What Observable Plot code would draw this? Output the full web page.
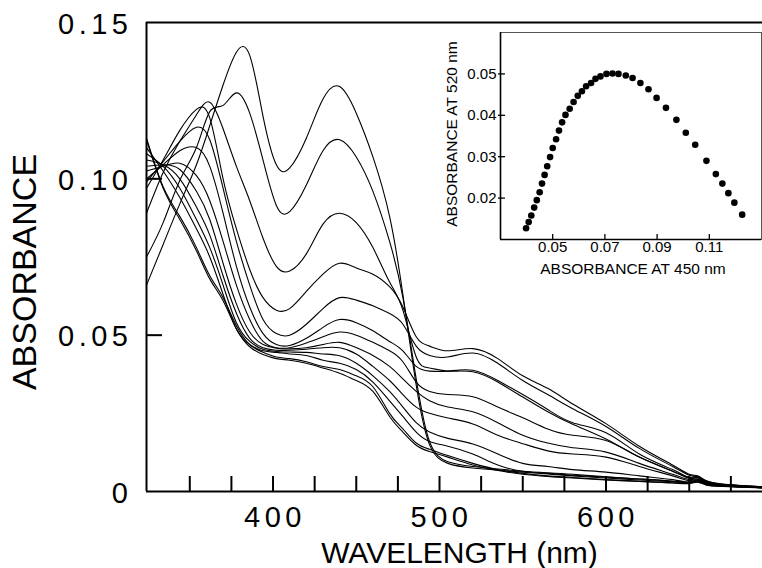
<!DOCTYPE html>
<html><head><meta charset="utf-8">
<script src="https://cdn.jsdelivr.net/npm/d3@7"></script>
<script src="https://cdn.jsdelivr.net/npm/@observablehq/plot@0.6"></script>
<style>
body{margin:0;background:#fff;}
#wrap{position:relative;width:762px;height:568px;overflow:hidden;background:#fff;}
#wrap svg{position:absolute;overflow:visible;}
</style></head><body><div id="wrap"></div>
<script>
// ---- main spectra (wavelength grid, nm) ----
const wavelengths = [324, 334, 344, 354, 362, 370, 378, 386, 394, 402, 410, 420, 430, 440, 450, 460, 470, 478, 486, 494, 505, 520, 535, 550, 565, 580, 600, 620, 640, 650, 655, 660, 670, 694];
const spectrum01 = [0.066, 0.079, 0.092, 0.1045, 0.117, 0.130, 0.1405, 0.1395, 0.120, 0.1045, 0.1035, 0.113, 0.1255, 0.1295, 0.121, 0.107, 0.088, 0.063, 0.034, 0.015, 0.009, 0.0075, 0.0068, 0.0062, 0.0056, 0.005, 0.0043, 0.0037, 0.0031, 0.0029, 0.0035, 0.0024, 0.0018, 0.0012];
const spectrum02 = [0.075, 0.086, 0.0995, 0.110, 0.1215, 0.1235, 0.1275, 0.121, 0.106, 0.0915, 0.0895, 0.098, 0.109, 0.1125, 0.107, 0.096, 0.080, 0.062, 0.036, 0.016, 0.0095, 0.008, 0.0072, 0.0065, 0.006, 0.0055, 0.0047, 0.004, 0.0033, 0.003, 0.0037, 0.0025, 0.0018, 0.0012];
const spectrum03 = [0.089, 0.102, 0.112, 0.1205, 0.1245, 0.116, 0.104, 0.093, 0.081, 0.072, 0.0705, 0.076, 0.0855, 0.089, 0.086, 0.078, 0.067, 0.058, 0.043, 0.0395, 0.0385, 0.0383, 0.035, 0.0302, 0.0255, 0.0215, 0.0168, 0.011, 0.0065, 0.0045, 0.0048, 0.003, 0.0022, 0.0014];
const spectrum04 = [0.097, 0.106, 0.1155, 0.1222, 0.1195, 0.100, 0.084, 0.071, 0.062, 0.058, 0.0585, 0.064, 0.0695, 0.073, 0.0715, 0.0695, 0.0655, 0.059, 0.0495, 0.0465, 0.045, 0.0457, 0.0425, 0.037, 0.033, 0.028, 0.0217, 0.0145, 0.0085, 0.0055, 0.005, 0.0035, 0.0024, 0.0015];
const spectrum05 = [0.099, 0.1055, 0.112, 0.1165, 0.1125, 0.097, 0.080, 0.066, 0.055, 0.0505, 0.050, 0.0535, 0.0585, 0.062, 0.0612, 0.0594, 0.0569, 0.0535, 0.0465, 0.0435, 0.043, 0.0443, 0.041, 0.0355, 0.031, 0.0265, 0.0208, 0.0138, 0.008, 0.0052, 0.0048, 0.0034, 0.0023, 0.0015];
const spectrum06 = [0.100, 0.1045, 0.109, 0.110, 0.104, 0.089, 0.072, 0.059, 0.0505, 0.047, 0.0467, 0.049, 0.0525, 0.055, 0.054, 0.0514, 0.048, 0.045, 0.040, 0.0385, 0.0385, 0.0388, 0.0355, 0.031, 0.0262, 0.022, 0.0188, 0.012, 0.007, 0.0045, 0.0045, 0.0032, 0.0022, 0.0014];
const spectrum07 = [0.1025, 0.104, 0.105, 0.101, 0.093, 0.080, 0.066, 0.055, 0.048, 0.046, 0.046, 0.0475, 0.0495, 0.051, 0.050, 0.0477, 0.045, 0.0415, 0.035, 0.032, 0.031, 0.0303, 0.027, 0.0236, 0.020, 0.018, 0.0163, 0.011, 0.0065, 0.0042, 0.0043, 0.003, 0.0021, 0.0014];
const spectrum08 = [0.104, 0.1045, 0.103, 0.096, 0.087, 0.073, 0.060, 0.051, 0.047, 0.0458, 0.0456, 0.046, 0.047, 0.0477, 0.046, 0.0435, 0.040, 0.036, 0.032, 0.029, 0.027, 0.0255, 0.022, 0.018, 0.0155, 0.014, 0.0126, 0.009, 0.0055, 0.0038, 0.004, 0.0028, 0.002, 0.0013];
const spectrum09 = [0.106, 0.1045, 0.100, 0.091, 0.082, 0.069, 0.057, 0.049, 0.046, 0.0452, 0.0452, 0.0455, 0.046, 0.046, 0.044, 0.040, 0.0355, 0.031, 0.027, 0.025, 0.0235, 0.0216, 0.018, 0.0153, 0.013, 0.012, 0.011, 0.008, 0.005, 0.0035, 0.0038, 0.0027, 0.002, 0.0013];
const spectrum10 = [0.108, 0.104, 0.097, 0.087, 0.078, 0.066, 0.054, 0.048, 0.0455, 0.0448, 0.0446, 0.0445, 0.044, 0.0434, 0.041, 0.037, 0.032, 0.027, 0.022, 0.019, 0.017, 0.0152, 0.012, 0.009, 0.008, 0.007, 0.0062, 0.005, 0.0038, 0.003, 0.0034, 0.0025, 0.0018, 0.0012];
const spectrum11 = [0.110, 0.1025, 0.094, 0.084, 0.075, 0.063, 0.052, 0.047, 0.045, 0.0445, 0.044, 0.0435, 0.042, 0.041, 0.039, 0.035, 0.029, 0.024, 0.019, 0.016, 0.0145, 0.012, 0.0085, 0.0065, 0.0058, 0.0052, 0.0046, 0.004, 0.0033, 0.0028, 0.0033, 0.0023, 0.0017, 0.0012];
const spectrum12 = [0.113, 0.0975, 0.088, 0.078, 0.069, 0.062, 0.053, 0.047, 0.0445, 0.043, 0.0425, 0.0415, 0.040, 0.039, 0.037, 0.0335, 0.025, 0.020, 0.0155, 0.0135, 0.0115, 0.009, 0.007, 0.0058, 0.005, 0.0045, 0.0038, 0.0033, 0.0028, 0.0026, 0.0031, 0.0022, 0.0017, 0.0012];
const spectrum13 = [0.1125, 0.097, 0.087, 0.077, 0.068, 0.061, 0.052, 0.0463, 0.0438, 0.0425, 0.042, 0.041, 0.0395, 0.0378, 0.0355, 0.032, 0.024, 0.019, 0.0148, 0.0128, 0.011, 0.0085, 0.0067, 0.0055, 0.0048, 0.0043, 0.0037, 0.0032, 0.0027, 0.0025, 0.003, 0.0021, 0.0016, 0.0011];

const xDomain = [324, 694];
const yDomain = [0, 0.15];
const xMinorTicks = [350, 375, 400, 425, 450, 475, 500, 525, 550, 575, 600, 625, 650, 675];
const xTickLabels = [400, 500, 600];
const yInnerTicks = [0.05, 0.10];
const yTicks = [0, 0.05, 0.10, 0.15];
const yTickLabels = ["0", "0.05", "0.10", "0.15"];
const xTitle = "WAVELENGTH (nm)";
const yTitle = "ABSORBANCE";

// ---- inset: A520 vs A450 ----
const insetA450 = [0.0398, 0.0408, 0.0418, 0.0429, 0.0439, 0.0450, 0.0459, 0.0469, 0.0479, 0.0490, 0.0500, 0.0513, 0.0524, 0.0536, 0.0549, 0.0565, 0.0580, 0.0596, 0.0612, 0.0628, 0.0647, 0.0664, 0.0683, 0.0706, 0.0729, 0.0752, 0.0780, 0.0806, 0.0836, 0.0867, 0.0898, 0.0934, 0.0974, 0.1010, 0.1046, 0.1089, 0.1125, 0.1150, 0.1173, 0.1196, 0.1226];
const insetA520 = [0.0127, 0.0142, 0.0158, 0.0177, 0.0195, 0.0214, 0.0235, 0.0256, 0.0277, 0.0299, 0.0321, 0.0342, 0.0363, 0.0383, 0.0401, 0.0416, 0.0432, 0.0447, 0.0458, 0.0470, 0.0478, 0.0488, 0.0494, 0.0500, 0.0501, 0.0500, 0.0496, 0.0490, 0.0478, 0.0463, 0.0442, 0.0418, 0.0389, 0.0358, 0.0329, 0.0290, 0.0258, 0.0235, 0.0212, 0.0189, 0.0160];
const insetXDomain = [0.03, 0.13];
const insetYDomain = [0.01, 0.06];
const insetXTicks = [0.05, 0.07, 0.09, 0.11];
const insetYTicks = [0.02, 0.03, 0.04, 0.05];
const insetXTitle = "ABSORBANCE AT 450 nm";
const insetYTitle = "ABSORBANCE AT 520 nm";

const FONT = "'Liberation Sans', Arial, Helvetica, sans-serif";

const spectra = [spectrum01, spectrum02, spectrum03, spectrum04, spectrum05, spectrum06, spectrum07, spectrum08, spectrum09, spectrum10, spectrum11, spectrum12, spectrum13];
const rows = spectra.flatMap((s, k) => wavelengths.map((w, i) => ({id: k, nm: w, a: s[i]})));

const main = Plot.plot({
  width: 762, height: 568,
  marginLeft: 146, marginTop: 22, marginRight: 0, marginBottom: 77,
  x: {domain: xDomain, axis: null},
  y: {domain: yDomain, axis: null},
  style: {fontFamily: FONT, background: "transparent", color: "black"},
  marks: [
    Plot.line(rows, {x: "nm", y: "a", z: "id", stroke: "black", strokeWidth: 1.1, curve: "natural", clip: true}),
    Plot.ruleX(xMinorTicks, {y1: yDomain[0], y2: yDomain[0], insetTop: -15, strokeWidth: 2}),
    Plot.ruleY(yInnerTicks, {x1: xDomain[0], x2: xDomain[0], insetRight: -16, strokeWidth: 2}),
    Plot.ruleY([yDomain[0]], {strokeWidth: 2.2}),
    Plot.ruleY([yDomain[1]], {strokeWidth: 2}),
    Plot.ruleX([xDomain[0]], {strokeWidth: 2}),
    Plot.text(yTicks, {x: xDomain[0], y: d => d, text: (d, i) => yTickLabels[i], textAnchor: "end", dx: -14, dy: 2, fontSize: 29, fontFamily: FONT}),
    Plot.text(xTickLabels, {x: d => d, y: yDomain[0], text: d => String(d), dx: 2, dy: 26, fontSize: 29, fontFamily: FONT}),
    Plot.text([xTitle], {text: d => d, frameAnchor: "bottom", textAnchor: "middle", lineAnchor: "middle", dy: 62, dx: 5, fontSize: 30, fontFamily: FONT}),
    Plot.text([yTitle], {text: d => d, frameAnchor: "left", textAnchor: "middle", lineAnchor: "middle", rotate: -90, dx: -121, dy: 15, fontSize: 34, fontFamily: FONT})
  ]
});
d3.select(main).selectAll("text").each(function() {
  if (/^[0-9.]+$/.test(this.textContent)) this.style.letterSpacing = "4.5px";
});
main.style.left = "0px"; main.style.top = "0px";

const insetRows = insetA450.map((x, i) => ({x, y: insetA520[i]}));
const inset = Plot.plot({
  width: 324, height: 260,
  marginLeft: 62, marginTop: 4, marginRight: 1, marginBottom: 49,
  x: {domain: insetXDomain, axis: null},
  y: {domain: insetYDomain, axis: null},
  style: {fontFamily: FONT, background: "transparent", color: "black"},
  marks: [
    Plot.frame({stroke: "#555", strokeWidth: 1}),
    Plot.ruleX([insetXDomain[0]], {strokeWidth: 1.6}),
    Plot.ruleY([insetYDomain[0]], {strokeWidth: 1.6}),
    Plot.ruleX(insetXTicks, {y1: insetYDomain[0], y2: insetYDomain[0], insetTop: -5, strokeWidth: 1.3}),
    Plot.ruleY(insetYTicks, {x1: insetXDomain[0], x2: insetXDomain[0], insetLeft: -2, insetRight: -5, strokeWidth: 1.3}),
    Plot.dot(insetRows, {x: "x", y: "y", r: 3.3, fill: "black", stroke: "none"}),
    Plot.text(insetYTicks, {x: insetXDomain[0], y: d => d, text: d => d.toFixed(2), textAnchor: "end", dx: -4, fontSize: 15, fontFamily: FONT}),
    Plot.text(insetXTicks, {x: d => d, y: insetYDomain[0], text: d => d.toFixed(2), dy: 8, fontSize: 15, fontFamily: FONT}),
    Plot.text([insetXTitle], {text: d => d, frameAnchor: "bottom", textAnchor: "middle", lineAnchor: "middle", dy: 30, dx: 2, fontSize: 15.5, fontFamily: FONT}),
    Plot.text([insetYTitle], {text: d => d, frameAnchor: "left", textAnchor: "middle", lineAnchor: "middle", rotate: -90, dx: -48, dy: -2, fontSize: 15.5, fontFamily: FONT})
  ]
});
inset.style.left = "438px"; inset.style.top = "28px";

const wrap = document.getElementById("wrap");
wrap.appendChild(main);
wrap.appendChild(inset);
</script>
</body></html>
